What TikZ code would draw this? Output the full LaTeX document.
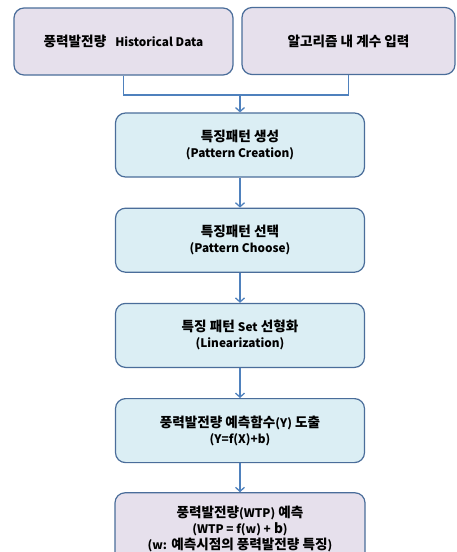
\documentclass[tikz,border=0pt]{standalone}
\usepackage{fontspec}
\setmainfont{Noto Sans CJK KR}
\usetikzlibrary{positioning, arrows.meta}
\definecolor{edgeblue}{HTML}{4A6D9A}
\definecolor{arrowblue}{HTML}{4F81BD}
\definecolor{stepfill}{HTML}{DBEEF4}
\definecolor{inputfill}{HTML}{E6E0EC}
\newcommand{\en}[1]{{\fontsize{11.8}{14}\selectfont #1}}

\begin{document}
\begin{tikzpicture}[x=1pt, y=1pt] %Flow
            \tikzstyle{inputbox} = [rectangle, rounded corners=10pt, draw=edgeblue, line width=1.2pt, fill=inputfill, minimum height=67pt, text centered, align=center, font=\fontsize{13.6}{16}\selectfont\bfseries]
            \tikzstyle{stepbox} = [rectangle, rounded corners=10pt, draw=edgeblue, line width=1.2pt, fill=stepfill, minimum width=249pt, minimum height=64pt, text centered, align=center, font=\fontsize{13.6}{16}\selectfont\bfseries]
            \tikzstyle{flow} = [draw=arrowblue, line width=1.3pt, -{Straight Barb[length=4pt, width=9pt]}]
            \useasboundingbox (0,0) rectangle (457,-552);
            \node[inputbox, minimum width=219pt] (H) at (123.5,-41.5) {풍력발전량\hspace{9pt}\en{Historical Data}};
            \node[inputbox, minimum width=213pt] (K) at (348.5,-41) {알고리즘 내 계수 입력};
            \coordinate (J) at (240,-95);
            \node[stepbox] (S1) at (240,-145) {특징패턴 생성\\\en{(Pattern Creation)}};
            \node[stepbox, below=30pt of S1] (S2) {특징패턴 선택\\\en{(Pattern Choose)}};
            \node[stepbox, below=30pt of S2] (S3) {특징 패턴 \en{Set} 선형화\\\en{(Linearization)}};
            \node[stepbox, below=30pt of S3] (S4) {풍력발전량 예측함수\en{(Y)} 도출\\\en{(Y=f(X)+b)}};
            \node[stepbox, fill=inputfill, minimum width=250pt, minimum height=72pt, below=29pt of S4] (S5) {풍력발전량\en{(WTP)} 예측\\\en{(WTP = f(w) +} b\en{)}\\\en{(w:} 예측시점의 풍력발전량 특징\en{)}};
            \draw[draw=arrowblue, line width=1.3pt] (H.south) |- (J) -| (K.south);
            \draw[flow] (J) -- (S1);
            \foreach \i/\j in {1/2,2/3,3/4,4/5}
            {
				\draw[flow] (S\i) -- (S\j);
				}
\end{tikzpicture}
\end{document}
